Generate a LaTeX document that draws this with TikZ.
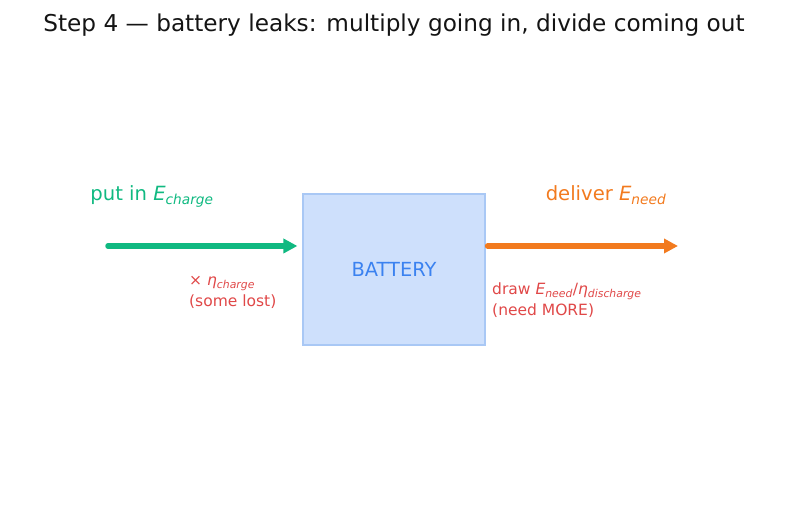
\documentclass[tikz,border=0pt]{standalone}
\usepackage{fontspec}
\setmainfont{DejaVu Sans}
\usetikzlibrary{arrows.meta,positioning}
\definecolor{inGreen}{HTML}{10B981}
\definecolor{outOrange}{HTML}{F27A1E}
\definecolor{lossRed}{HTML}{E04848}
\definecolor{battFill}{HTML}{CEE0FC}
\definecolor{battEdge}{HTML}{A9C8F5}
\definecolor{battText}{HTML}{3B82F0}
\newcommand{\sub}[1]{\textsubscript{\itshape #1}}
\newcommand{\eff}{\textit{η}}

\begin{document}
\begin{tikzpicture}[x=1pt, y=1pt,
    flow/.style={line width=5.5pt, line cap=round, -{Triangle[length=14pt,width=14pt]}},
    note/.style={text=lossRed, font=\fontsize{15.5}{21.5}\selectfont, align=left, inner sep=0pt},
    label/.style={font=\fontsize{19.6}{23}\selectfont, inner sep=0pt, anchor=base}]
  \useasboundingbox (0,0) rectangle (787,510);

  % Title
  \node[anchor=base, inner sep=0pt, text={rgb,255:red,20;green,20;blue,20},
        font=\fontsize{23.2}{27}\selectfont] (title) at (394,478.3)
    {Step 4 — battery leaks: multiply going in, divide coming out};

  % Battery
  \node[draw=battEdge, fill=battFill, line width=1.2pt, minimum width=182pt,
        minimum height=151pt, text=battText, font=\fontsize{19.4}{23}\selectfont]
    (batt) at (394,240.5) {BATTERY};

  % Arrows
  \coordinate (src) at (108,264);
  \coordinate (dst) at (678,264);
  \draw[flow, inGreen] (src) -- ([xshift=-5pt]batt.west |- src);
  \draw[flow, outOrange] ([xshift=2pt]batt.east |- dst) -- (dst);

  % Labels
  \node[label, text=inGreen] (putin) at (152,309) {put in \textit{E}\sub{charge}};
  \node[label, text=outOrange] (deliver) at (606,309) {deliver \textit{E}\sub{need}};

  % Notes
  \node[note, anchor=base west] (lossin) at (189,203)
    {× \eff\sub{charge}\\(some lost)};
  \node[note, anchor=base west] (lossout) at (492,194)
    {draw \textit{E}\sub{need}/\eff\sub{discharge}\\(need MORE)};
\end{tikzpicture}
\end{document}
